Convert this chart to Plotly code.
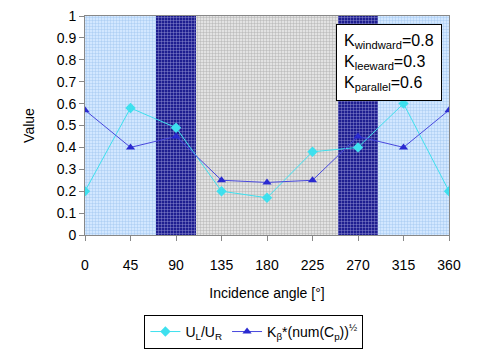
import plotly.graph_objects as go

angles = [0, 45, 90, 135, 180, 225, 270, 315, 360]
ul_ur = [0.20, 0.58, 0.49, 0.20, 0.17, 0.38, 0.40, 0.60, 0.20]
k_beta = [0.57, 0.40, 0.45, 0.25, 0.24, 0.25, 0.45, 0.40, 0.57]
band_start = [0, 70, 110, 250, 290]
band_end = [70, 110, 250, 290, 360]
band_bg = ["#d2e7ff", "#1e1e90", "#e2e2e2", "#1e1e90", "#d2e7ff"]
band_fg = ["#9cc2ee", "#a0a0dc", "#a8a8a8", "#a0a0dc", "#9cc2ee"]
x_ticks = [0, 45, 90, 135, 180, 225, 270, 315, 360]
y_ticks = [0, 0.1, 0.2, 0.3, 0.4, 0.5, 0.6, 0.7, 0.8, 0.9, 1]
y_labels = ["0", "0.1", "0.2", "0.3", "0.4", "0.5", "0.6", "0.7", "0.8", "0.9", "1"]

fig = go.Figure()
for x0, x1, bg, fg in zip(band_start, band_end, band_bg, band_fg):
    fig.add_trace(go.Bar(x=[(x0 + x1) / 2], y=[1], width=[x1 - x0], showlegend=False,
                         hoverinfo="skip", xaxis="x", yaxis="y",
                         marker=dict(color=bg, line_width=0,
                                     pattern=dict(shape="+", size=3, solidity=0.25,
                                                  fgcolor=fg, bgcolor=bg, fillmode="replace"))))

fig.add_trace(go.Scatter(x=angles, y=ul_ur, mode="lines+markers", name="U<sub>L</sub>/U<sub>R</sub>",
                         xaxis="x2", yaxis="y2",
                         line=dict(color="#3ee0ee", width=1),
                         marker=dict(symbol="diamond", size=8, color="#3ee0ee")))
fig.add_trace(go.Scatter(x=angles, y=k_beta, mode="lines+markers",
                         name="K<sub>β</sub>*(num(C<sub>p</sub>))<sup>½</sup>",
                         xaxis="x2", yaxis="y2",
                         line=dict(color="#4848dd", width=1),
                         marker=dict(symbol="triangle-up", size=8, color="#2a2ad0")))

tickfont = dict(family="Liberation Sans, Arial", size=14, color="black")
fig.update_layout(
    width=472, height=349,
    margin=dict(l=77, r=31, t=8, b=119),
    paper_bgcolor="white", plot_bgcolor="white",
    font=dict(family="Liberation Sans, Arial", size=14, color="black"),
    barmode="overlay", bargap=0,
    xaxis=dict(range=[0, 360], showgrid=False, showticklabels=False, zeroline=False,
               automargin=False, fixedrange=True),
    yaxis=dict(range=[0, 1], showgrid=False, showticklabels=False, zeroline=False,
               automargin=False, fixedrange=True),
    xaxis2=dict(range=[0, 360], overlaying="x", anchor="y2", tickvals=x_ticks, tickfont=tickfont,
                showgrid=True, gridcolor="rgba(140,140,140,0.55)", gridwidth=1,
                ticks="outside", ticklen=5, tickcolor="#888", showline=True, linecolor="#888",
                mirror=True, zeroline=False, automargin=False, ticklabelstandoff=12,
                ticklabeloverflow="allow",
                title=dict(text="Incidence angle [°]", standoff=16, font=dict(size=14))),
    yaxis2=dict(range=[0, 1], overlaying="y", anchor="x2", tickvals=y_ticks, ticktext=y_labels,
                tickfont=tickfont, showgrid=True, gridcolor="rgba(140,140,140,0.55)", gridwidth=1,
                ticks="outside", ticklen=5, tickcolor="#888", showline=True, linecolor="#888",
                mirror=True, zeroline=False, automargin=False, ticklabeloverflow="allow",
                title=dict(text="Value", standoff=18, font=dict(size=14))),
    legend=dict(orientation="h", x=0.464, xanchor="center", y=-0.365, yanchor="top",
                bordercolor="black", borderwidth=1, bgcolor="white", font=dict(size=14),
                itemwidth=30),
    annotations=[dict(xref="paper", yref="paper", x=0.981, y=0.965, xanchor="right", yanchor="top",
                      text="K<sub>windward</sub>=0.8<br>K<sub>leeward</sub>=0.3<br>K<sub>parallel</sub>=0.6",
                      showarrow=False, align="left", bgcolor="white", bordercolor="black",
                      borderwidth=1, borderpad=7, font=dict(size=16))],
)
fig.write_html("out.html")
